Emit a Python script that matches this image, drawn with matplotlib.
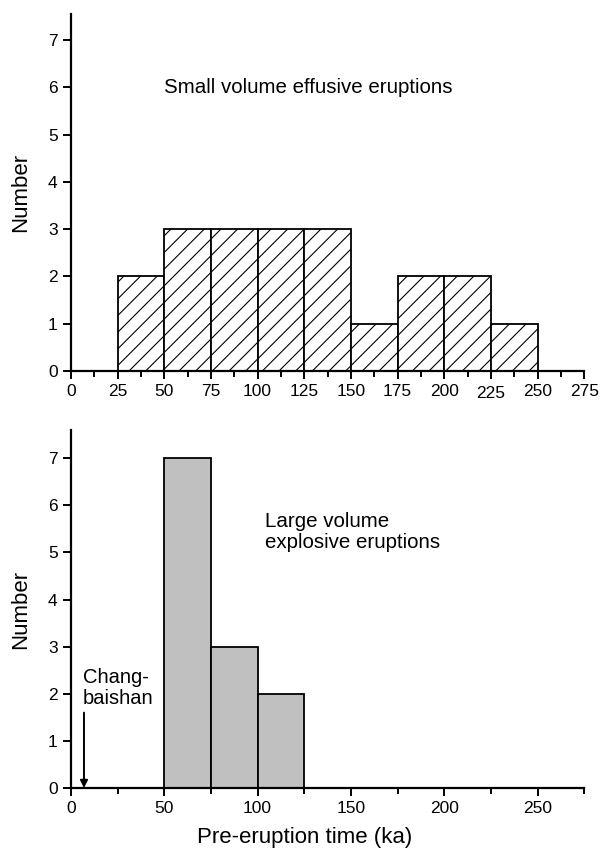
import matplotlib
matplotlib.use('Agg')
import matplotlib.pyplot as plt
import matplotlib.transforms as mtransforms
from matplotlib.ticker import MultipleLocator

plt.rcParams.update({
    'font.family': ['Liberation Sans', 'DejaVu Sans'],
    'font.size': 12,
    'hatch.linewidth': 0.8,
    'axes.linewidth': 1.6,
})

# ── Data ─────────────────────────────────────────────
bin_width = 25
small_bin_left = [25, 50, 75, 100, 125, 150, 175, 200, 225]
small_counts   = [2, 3, 3, 3, 3, 1, 2, 2, 1]

large_bin_left = [50, 75, 100]
large_counts   = [7, 3, 2]

changbaishan_x = 7

fig = plt.figure(figsize=(6.01, 8.51), dpi=100)
ax1 = fig.add_axes([0.118, 0.564, 0.854, 0.4195])
ax2 = fig.add_axes([0.118, 0.074, 0.854, 0.4207])


def style(ax, ymax, major, minor):
    for s in ['top', 'right']:
        ax.spines[s].set_visible(False)
    ax.set_xlim(0, 275)
    ax.set_ylim(0, ymax)
    ax.xaxis.set_major_locator(MultipleLocator(major))
    ax.xaxis.set_minor_locator(MultipleLocator(minor))
    ax.yaxis.set_major_locator(MultipleLocator(1))
    ax.tick_params(axis='both', which='major', direction='out', length=6,
                   width=1.4, labelsize=12.5)
    ax.tick_params(axis='x', which='minor', direction='out', length=4, width=1.4)
    ax.tick_params(axis='y', which='minor', left=False)
    ax.set_ylabel('Number', fontsize=16)
    ax.yaxis.set_label_coords(-0.078, 0.5)


# Top panel – small volume effusive eruptions
ax1.bar(small_bin_left, small_counts, width=bin_width, align='edge',
        facecolor='white', edgecolor='black', linewidth=1.3, hatch='//', zorder=2)
style(ax1, 7.55, 25, 12.5)
ax1.set_xticks(range(0, 276, 25))
# the "225" label sits slightly lower in the original
lbl = ax1.get_xticklabels()[9]
lbl.set_transform(lbl.get_transform() +
                  mtransforms.ScaledTranslation(0, -0.02, fig.dpi_scale_trans))
ax1.text(50, 6.0, 'Small volume effusive eruptions', fontsize=14.8,
         ha='left', va='center')

# Bottom panel – large volume explosive eruptions
ax2.bar(large_bin_left, large_counts, width=bin_width, align='edge',
        facecolor='#c0c0c0', edgecolor='black', linewidth=1.3, zorder=2)
style(ax2, 7.6, 50, 25)
ax2.set_xticks(range(0, 251, 50))
ax2.text(104, 5.43, 'Large volume\nexplosive eruptions', fontsize=14.8,
         ha='left', va='center', linespacing=1.15)
ax2.text(6.4, 2.12, 'Chang-\nbaishan', fontsize=14.5, ha='left', va='center',
         linespacing=1.15)
ax2.annotate('', xy=(changbaishan_x, 0), xytext=(changbaishan_x, 1.6),
             arrowprops=dict(arrowstyle='-|>', color='black', lw=1.4,
                             mutation_scale=11, shrinkA=0, shrinkB=0))
ax2.set_xlabel('Pre-eruption time (ka)', fontsize=16)
ax2.xaxis.set_label_coords(125 / 275, -0.11)

fig.savefig('out.png', dpi=100)
